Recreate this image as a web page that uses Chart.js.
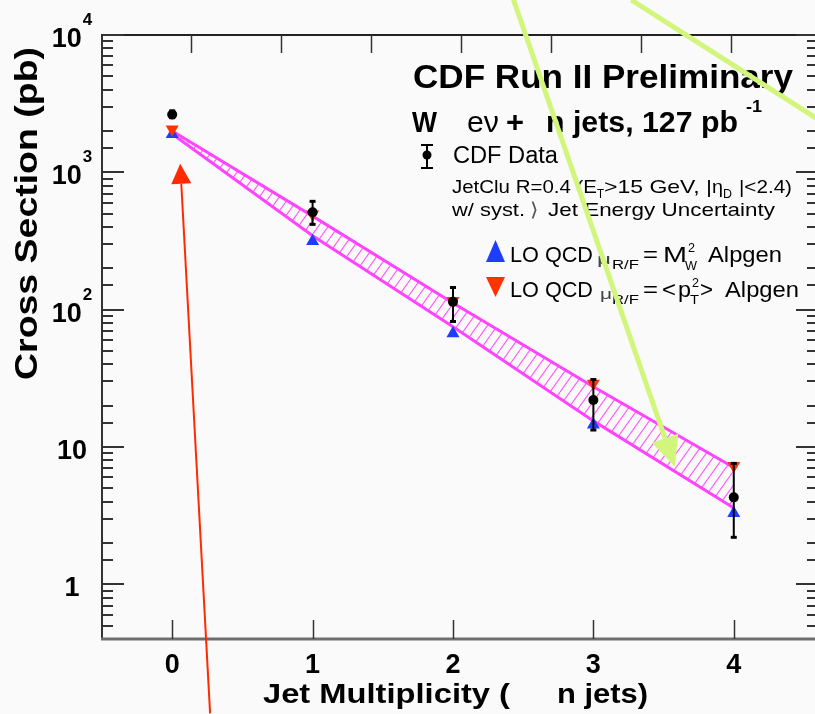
<!DOCTYPE html>
<html>
<head>
<meta charset="utf-8">
<script src="https://cdn.jsdelivr.net/npm/chart.js@4.4.0/dist/chart.umd.min.js"></script>
<style>
    html, body { margin: 0; padding: 0; background: #fafafa; overflow: hidden; }
    #wrap { width: 815px; height: 714px; overflow: hidden; }
</style>
</head>
<body>
<div id="wrap"><canvas id="xsChart" width="830" height="714"></canvas></div>
<script>
// Jet multiplicity bins
const nJets = [0, 1, 2, 3, 4];

// CDF data with error bars (pb)
const dataXs = [2640, 512, 114, 22, 4.3];
const dataErrHi = [2800, 615, 145, 31, 7.6];
const dataErrLo = [2500, 418, 82, 13.3, 2.2];

// LO QCD Alpgen predictions (pb)
const qcdMw = [1890, 315, 67, 14.5, 3.3];   // mu = M_W^2
const qcdPt = [2060, 495, 116, 29, 7.3];    // mu = <pT^2>

// Hatched uncertainty band
const bandLo = [1900, 345, 75, 15.5, 3.6];
const bandHi = [2000, 480, 112, 27.5, 7.1];

// Axis ticks
const xTicks = [0, 1, 2, 3, 4];
const topTicks = [0, 1, 2, 3, 4, 5, 6];
const yLabels = [[1, '1', ''], [10, '10', ''], [100, '10', '2'], [1000, '10', '3'], [10000, '10', '4']];

// Overlay arrows, in data units [x0, y0, x1, y1]
const greenArrow = [2.42, 19500, 3.58, 7.2];
const greenLine = [3.27, 18000, 4.75, 1940];
const redArrow = [0.27, 0.115, 0.057, 1153];

const FAM = '"Liberation Sans", Arial, Helvetica, sans-serif';

// Helpers
function pts(vals) {
    return nJets.map((n, i) => ({ x: n, y: vals[i] }));
}

function hatchPattern() {
    const c = document.createElement('canvas');
    c.width = 10; c.height = 14;
    const g = c.getContext('2d');
    g.strokeStyle = '#ff5cff';
    g.lineWidth = 1.2;
    [-10, 0, 10].forEach(o => {
        g.beginPath();
        g.moveTo(o, 14);
        g.lineTo(o + 10, 0);
        g.stroke();
    });
    return g.createPattern(c, 'repeat');
}

function txt(ctx, s, x, y, size, opts = {}) {
    ctx.save();
    ctx.font = (opts.bold ? 'bold ' : '') + size + 'px ' + FAM;
    const w = ctx.measureText(s).width;
    const sx = opts.w ? opts.w / w : 1;
    ctx.translate(x, y);
    if (opts.rot) ctx.rotate(opts.rot);
    ctx.scale(sx, 1);
    ctx.textBaseline = 'alphabetic';
    ctx.fillStyle = opts.color || '#000';
    const off = opts.align === 'center' ? -w / 2 : (opts.align === 'right' ? -w : 0);
    ctx.fillText(s, off, 0);
    ctx.restore();
}

function line(ctx, x0, y0, x1, y1) {
    ctx.beginPath();
    ctx.moveTo(x0, y0);
    ctx.lineTo(x1, y1);
    ctx.stroke();
}

function arrow(ctx, x0, y0, x1, y1, color, lw, headLen, headHalf) {
    const dx = x1 - x0, dy = y1 - y0;
    const len = Math.hypot(dx, dy);
    const ux = dx / len, uy = dy / len;
    const bx = x1 - ux * headLen, by = y1 - uy * headLen;
    ctx.save();
    ctx.strokeStyle = color;
    ctx.fillStyle = color;
    ctx.lineWidth = lw;
    line(ctx, x0, y0, bx, by);
    ctx.beginPath();
    ctx.moveTo(x1, y1);
    ctx.lineTo(bx - uy * headHalf, by + ux * headHalf);
    ctx.lineTo(bx + uy * headHalf, by - ux * headHalf);
    ctx.closePath();
    ctx.fill();
    ctx.restore();
}

const cdfPlugin = {
    id: 'cdf',
    beforeDraw(chart) {
        const ctx = chart.ctx;
        ctx.save();
        ctx.fillStyle = '#fafafa';
        ctx.fillRect(0, 0, chart.width, chart.height);
        ctx.restore();
    },
    afterDatasetsDraw(chart) {
        // error bars on the data points
        const ctx = chart.ctx, xs = chart.scales.x, ys = chart.scales.y;
        ctx.save();
        ctx.strokeStyle = '#000';
        nJets.forEach((n, i) => {
            const px = xs.getPixelForValue(n);
            const top = ys.getPixelForValue(dataErrHi[i]);
            const bot = ys.getPixelForValue(dataErrLo[i]);
            ctx.lineWidth = 2;
            line(ctx, px, top, px, bot);
            ctx.lineWidth = 3;
            line(ctx, px - 3, top, px + 3, top);
            line(ctx, px - 3, bot, px + 3, bot);
        });
        ctx.restore();
    },
    afterDraw(chart) {
        const ctx = chart.ctx, a = chart.chartArea;
        const xs = chart.scales.x, x2 = chart.scales.x2, ys = chart.scales.y;

        // frame (the right edge sits just outside the visible page)
        ctx.save();
        ctx.lineWidth = 2;
        ctx.strokeStyle = '#222';
        line(ctx, a.left - 1, a.top, a.right, a.top);
        ctx.strokeStyle = '#333';
        line(ctx, a.left, a.top, a.left, a.bottom);
        ctx.strokeStyle = '#6e6e6e';
        ctx.lineWidth = 3;
        line(ctx, a.left - 1, a.bottom, a.right, a.bottom);

        // y ticks, both sides
        ctx.strokeStyle = '#333';
        ctx.lineWidth = 2;
        ys.ticks.forEach(t => {
            const v = t.value;
            if (v <= ys.min || v > ys.max) return;
            const py = Math.round(ys.getPixelForValue(v));
            const major = Math.abs(Math.log10(v) - Math.round(Math.log10(v))) < 1e-6;
            const len = major ? 22 : 11;
            line(ctx, a.left, py, a.left + len, py);
            line(ctx, a.right, py, a.right - len, py);
        });

        // x ticks, bottom and top
        ctx.lineWidth = 1.5;
        xTicks.forEach(v => {
            const px = Math.round(xs.getPixelForValue(v)) + 0.5;
            line(ctx, px, a.bottom, px, a.bottom - 19);
        });
        topTicks.forEach(v => {
            const px = Math.round(x2.getPixelForValue(v)) + 0.5;
            line(ctx, px, a.top, px, a.top + 18);
        });
        ctx.restore();

        // tick labels
        xTicks.forEach(v => {
            txt(ctx, String(v), xs.getPixelForValue(v), 673, 27, { bold: true, align: 'center' });
        });
        yLabels.forEach(([v, base, sup]) => {
            const py = ys.getPixelForValue(v);
            ctx.font = 'bold 27px ' + FAM;
            const wb = ctx.measureText(base).width;
            ctx.font = 'bold 17px ' + FAM;
            const ws = sup ? ctx.measureText(sup).width + 1 : 0;
            const x0 = 72 - (wb + ws) / 2;
            txt(ctx, base, x0, py + 12, 27, { bold: true });
            if (sup) txt(ctx, sup, x0 + wb + 1, py - 10, 17, { bold: true });
        });

        // axis titles
        txt(ctx, 'Cross Section (pb)', 37, 213.5, 32, { bold: true, w: 333, align: 'center', rot: -Math.PI / 2 });
        txt(ctx, 'Jet Multiplicity (', 263, 703, 28, { bold: true, w: 247 });
        txt(ctx, 'n jets)', 557, 703, 28, { bold: true, w: 91 });

        // header
        txt(ctx, 'CDF Run II Preliminary', 413, 88, 34, { bold: true, w: 380 });
        txt(ctx, 'W', 412, 132, 30, { bold: true, w: 25 });
        txt(ctx, 'e\u03bd', 467, 132, 29, { w: 32 });
        txt(ctx, '+', 506, 132, 29, { bold: true, w: 18 });
        txt(ctx, 'n jets, 127 pb', 546, 132, 30, { bold: true, w: 192 });
        txt(ctx, '-1', 746, 112, 17, { bold: true, w: 16 });

        // data legend entry
        ctx.save();
        ctx.strokeStyle = '#000';
        ctx.lineWidth = 2;
        line(ctx, 427, 145, 427, 168);
        line(ctx, 421, 145, 433, 145);
        line(ctx, 421, 168, 433, 168);
        ctx.fillStyle = '#000';
        ctx.beginPath();
        ctx.arc(427, 155, 4.5, 0, Math.PI * 2);
        ctx.fill();
        ctx.restore();
        txt(ctx, 'CDF Data', 453, 163, 23, { w: 105 });

        txt(ctx, 'JetClu R=0.4 (E', 452, 193, 19, { w: 145 });
        txt(ctx, 'T', 597, 198, 12, { w: 7 });
        txt(ctx, '>15 GeV, |', 604, 193, 19, { w: 108 });
        txt(ctx, '\u03b7', 712, 193, 19, { w: 11 });
        txt(ctx, 'D', 723, 198, 12, { w: 9 });
        txt(ctx, '|<2.4)', 739, 193, 19, { w: 53 });
        txt(ctx, 'w/ syst.', 452, 216, 19, { w: 73 });
        txt(ctx, '\u27e9', 530, 216, 19, { w: 8, color: '#555' });
        txt(ctx, 'Jet Energy Uncertainty', 548, 216, 19, { w: 227 });

        // model legend entries
        ctx.save();
        ctx.fillStyle = '#1f3dff';
        ctx.beginPath();
        ctx.moveTo(495.5, 240); ctx.lineTo(505, 262); ctx.lineTo(486, 262);
        ctx.closePath(); ctx.fill();
        ctx.fillStyle = '#ff3300';
        ctx.beginPath();
        ctx.moveTo(486, 277); ctx.lineTo(505, 277); ctx.lineTo(495.5, 297);
        ctx.closePath(); ctx.fill();
        ctx.restore();

        txt(ctx, 'LO QCD', 510, 262, 22, { w: 83 });
        txt(ctx, '\u03bc', 597, 264, 15, { w: 14, color: '#444' });
        txt(ctx, 'R/F', 612, 269, 12, { w: 27 });
        txt(ctx, '=', 643, 262, 22, { w: 15 });
        txt(ctx, 'M', 663, 262, 22, { w: 24 });
        txt(ctx, '2', 688, 252, 12, { w: 7 });
        txt(ctx, 'W', 685, 270, 12, { w: 12 });
        txt(ctx, 'Alpgen', 708, 262, 22, { w: 74 });

        txt(ctx, 'LO QCD', 510, 297, 22, { w: 83 });
        txt(ctx, '\u03bc', 600, 299, 15, { w: 12, color: '#444' });
        txt(ctx, 'R/F', 612, 304, 12, { w: 27 });
        txt(ctx, '=', 643, 297, 22, { w: 15 });
        txt(ctx, '<', 662, 297, 22, { w: 14 });
        txt(ctx, 'p', 678, 297, 22, { w: 13 });
        txt(ctx, '2', 692, 287, 12, { w: 7 });
        txt(ctx, 'T', 690, 304, 12, { w: 9 });
        txt(ctx, '>', 700, 297, 22, { w: 13 });
        txt(ctx, 'Alpgen', 725, 297, 22, { w: 74 });

        // overlay arrows
        const P = (x, y) => [xs.getPixelForValue(x), ys.getPixelForValue(y)];
        let s = P(redArrow[0], redArrow[1]), e = P(redArrow[2], redArrow[3]);
        arrow(ctx, s[0], s[1], e[0], e[1], '#ff2a00', 2, 20, 10);
        s = P(greenArrow[0], greenArrow[1]); e = P(greenArrow[2], greenArrow[3]);
        arrow(ctx, s[0], s[1], e[0], e[1], '#d2f57c', 5, 30, 14);
        s = P(greenLine[0], greenLine[1]); e = P(greenLine[2], greenLine[3]);
        ctx.save();
        ctx.strokeStyle = '#d2f57c';
        ctx.lineWidth = 5;
        line(ctx, s[0], s[1], e[0], e[1]);
        ctx.restore();
    }
};

const chart = new Chart(document.getElementById('xsChart'), {
    type: 'line',
    data: {
        datasets: [
            {
                label: 'CDF Data',
                data: pts(dataXs),
                showLine: false,
                pointStyle: 'circle',
                pointRadius: 5,
                pointBackgroundColor: '#000',
                pointBorderColor: '#000',
                pointBorderWidth: 0,
                order: 0
            },
            {
                label: 'LO QCD mu = <pT^2>',
                data: pts(qcdPt),
                showLine: false,
                pointStyle: 'triangle',
                pointRotation: 180,
                pointRadius: 7.5,
                pointBackgroundColor: '#ff3300',
                pointBorderColor: '#ff3300',
                pointBorderWidth: 0,
                order: 1
            },
            {
                label: 'LO QCD mu = MW^2',
                data: pts(qcdMw),
                showLine: false,
                pointStyle: 'triangle',
                pointRadius: 7.5,
                pointBackgroundColor: '#1f3dff',
                pointBorderColor: '#1f3dff',
                pointBorderWidth: 0,
                order: 2
            },
            {
                label: 'band low',
                data: pts(bandLo),
                borderColor: '#ff44ff',
                borderWidth: 3,
                pointRadius: 0,
                fill: false,
                tension: 0,
                order: 3
            },
            {
                label: 'band high',
                data: pts(bandHi),
                borderColor: '#ff44ff',
                borderWidth: 3,
                backgroundColor: hatchPattern(),
                pointRadius: 0,
                fill: '-1',
                tension: 0,
                order: 4
            }
        ]
    },
    options: {
        responsive: false,
        devicePixelRatio: 1,
        animation: false,
        layout: { padding: { left: 102, top: 35, right: 12, bottom: 75 } },
        plugins: {
            legend: { display: false },
            tooltip: { enabled: false }
        },
        scales: {
            x: { type: 'linear', min: -0.5, max: 4.6, display: false },
            x2: { type: 'linear', axis: 'x', min: -0.99, max: 6.97, display: false },
            y: { type: 'logarithmic', min: 0.4, max: 10000, display: false, ticks: { autoSkip: false } }
        }
    },
    plugins: [cdfPlugin]
});
</script>
</body>
</html>
